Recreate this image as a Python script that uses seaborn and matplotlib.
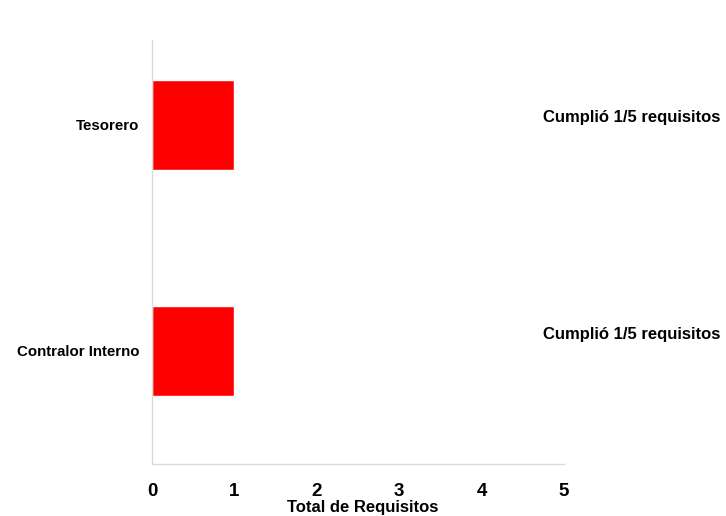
import numpy as np
import pandas as pd
import seaborn as sns
import matplotlib.pyplot as plt

cargos = ['Tesorero', 'Contralor Interno']
cumplidos = [1, 1]
total = [5, 5]
etiquetas = [f'Cumplió {c}/{t} requisitos' for c, t in zip(cumplidos, total)]

sns.set_style('white')
plt.rcParams['font.family'] = ['Liberation Sans', 'DejaVu Sans']
plt.rcParams['text.color'] = 'black'
plt.rcParams['xtick.color'] = 'black'
plt.rcParams['ytick.color'] = 'black'
plt.rcParams['axes.labelcolor'] = 'black'

df = pd.DataFrame({'cargo': cargos, 'cumplidos': cumplidos})

fig = plt.figure(figsize=(7.26, 5.16), dpi=100)
ax = fig.add_axes([0.2094, 0.1008, 0.5675, 0.8217])

sns.barplot(data=df, x='cumplidos', y='cargo', orient='h', color='#ff0000',
            saturation=1, width=0.4, ax=ax)

ax.set_xlim(0, 5)
ax.set_ylim(1.5, -0.376)
ax.set_xticks(range(0, 6))
ax.tick_params(axis='x', labelsize=13.5, pad=14, length=0)
ax.tick_params(axis='y', labelsize=10.8, pad=9, length=0)
for lab in ax.get_xticklabels() + ax.get_yticklabels():
    lab.set_fontweight('bold')
ax.set_xlabel('Total de Requisitos', fontsize=12, fontweight='bold', labelpad=1)
ax.xaxis.set_label_coords(0.5 + 5 / 412, -0.085)
ax.set_ylabel('')

for s in ['top', 'right']:
    ax.spines[s].set_visible(False)
for s in ['left', 'bottom']:
    ax.spines[s].set_color('#d9d9d9')
    ax.spines[s].set_linewidth(1)

# desplazamiento vertical de cada texto respecto a su barra
desfase = [-0.035, -0.075]
for i, txt in enumerate(etiquetas):
    ax.annotate(txt, xy=(6.9, i + desfase[i]), ha='right', va='center',
                fontsize=12, fontweight='bold', annotation_clip=False)

fig.savefig('out.png', dpi=100)
